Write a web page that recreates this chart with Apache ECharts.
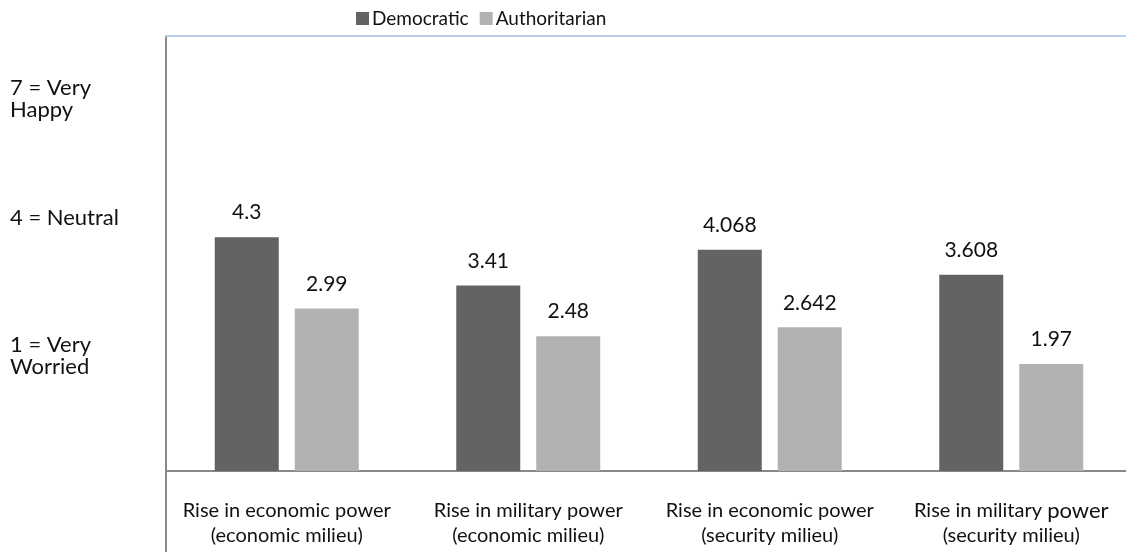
<!DOCTYPE html>
<html>
<head>
<meta charset="utf-8">
<script src="https://cdn.jsdelivr.net/npm/echarts@6/dist/echarts.min.js"></script>
<style>
  html, body { margin: 0; padding: 0; background: #fff; }
  #chart { width: 1126px; height: 552px; }
</style>
</head>
<body>
<div id="chart"></div>
<script>
const categories = [
  'Rise in economic power\n(economic milieu)',
  'Rise in military power\n(economic milieu)',
  'Rise in economic power\n(security milieu)',
  'Rise in military {big|power}\n(security milieu)'
]
const democratic = [4.3, 3.41, 4.068, 3.608]
const authoritarian = [2.99, 2.48, 2.642, 1.97]
const scaleLabels = ['7 = Very\nHappy', '4 = Neutral', '1 = Very\nWorried']

const FONT = 'Lato'

const chart = echarts.init(document.getElementById('chart'))

// 左侧的刻度说明文字
const scaleTops = [77, 207, 334]
const graphic = scaleLabels.map((t, i) => ({
  type: 'text',
  left: 10,
  top: scaleTops[i],
  style: {
    text: t,
    font: '22px ' + FONT,
    fill: '#111',
    lineHeight: 22
  }
}))
// 左轴线延伸到底部
graphic.push({
  type: 'line',
  shape: { x1: 166, y1: 470, x2: 166, y2: 552 },
  style: { stroke: '#888', lineWidth: 2 }
})

const option = {
  backgroundColor: '#fff',
  animation: false,
  textStyle: { fontFamily: FONT },
  legend: {
    top: 4,
    left: 351,
    itemWidth: 13,
    itemHeight: 13,
    itemGap: 11,
    icon: 'rect',
    textStyle: { fontSize: 19, color: '#111', fontFamily: FONT, padding: [0, 0, 0, -2] },
    data: ['Democratic', 'Authoritarian']
  },
  grid: { left: 166, right: -6, top: 36, bottom: 81, outerBoundsMode: 'none' },
  graphic: graphic,
  xAxis: [
    {
      type: 'category',
      data: categories,
      axisLine: { lineStyle: { color: '#888', width: 2 } },
      axisTick: { show: false },
      axisLabel: {
        color: '#111',
        fontSize: 20,
        fontFamily: FONT,
        lineHeight: 25,
        margin: 27,
        interval: 0,
        rich: { big: { fontSize: 22, fontFamily: FONT, color: '#111' } }
      }
    },
    {
      type: 'category',
      position: 'top',
      data: categories,
      axisLine: { lineStyle: { color: '#b9cde5', width: 2 } },
      axisTick: { show: false },
      axisLabel: { show: false }
    }
  ],
  yAxis: {
    type: 'value',
    min: 0,
    max: 8,
    axisLine: { show: true, lineStyle: { color: '#888', width: 2 } },
    axisTick: { show: false },
    axisLabel: { show: false },
    splitLine: { show: false }
  },
  series: [
    {
      name: 'Democratic',
      type: 'bar',
      data: democratic,
      barWidth: 64,
      barGap: '25%',
      itemStyle: { color: '#636363' },
      label: { show: true, position: 'top', distance: 14, fontSize: 21, color: '#111', fontFamily: FONT }
    },
    {
      name: 'Authoritarian',
      type: 'bar',
      data: authoritarian,
      barWidth: 64,
      barGap: '25%',
      itemStyle: { color: '#b2b2b2' },
      label: { show: true, position: 'top', distance: 14, fontSize: 21, color: '#111', fontFamily: FONT }
    }
  ]
}

chart.setOption(option)
</script>
</body>
</html>
